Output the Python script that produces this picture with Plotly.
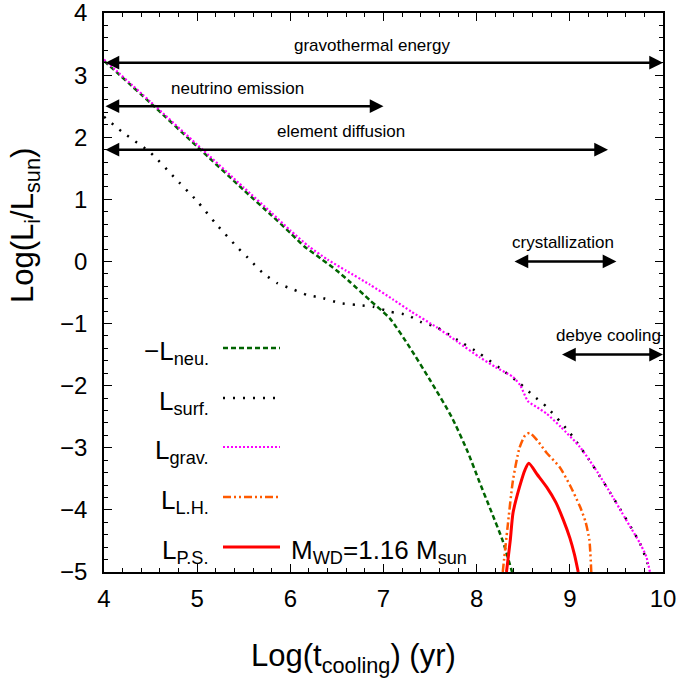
import plotly.graph_objects as go

# ---------------- data ----------------
grav_x = [4.0, 4.5, 5.0, 5.5, 5.8, 6.0, 6.2, 6.4, 6.6, 6.85, 7.1, 7.3, 7.57, 7.8, 8.03, 8.2, 8.39, 8.47,
          8.55, 8.65, 8.75, 8.9, 9.11, 9.3, 9.46, 9.6, 9.75, 9.82, 9.86]
grav_y = [3.25, 2.57, 1.88, 1.19, 0.78, 0.50, 0.24, 0.03, -0.15, -0.37, -0.61, -0.81, -1.06, -1.30, -1.54,
          -1.70, -1.86, -2.00, -2.25, -2.35, -2.45, -2.66, -2.99, -3.40, -3.79, -4.15, -4.53, -4.75, -5.0]

surf_x = [4.0, 4.2, 4.5, 4.75, 5.0, 5.2, 5.43, 5.57, 5.7, 5.86, 6.03, 6.18, 6.35, 6.53, 6.71, 6.89, 7.07,
          7.25, 7.41, 7.57, 7.8, 8.03, 8.25, 8.46, 8.6, 8.75, 9.0, 9.21, 9.46, 9.75, 9.86]
surf_y = [2.33, 2.08, 1.75, 1.36, 0.97, 0.61, 0.23, 0.02, -0.18, -0.35, -0.45, -0.54, -0.59, -0.67, -0.70,
          -0.73, -0.81, -0.86, -0.98, -1.06, -1.27, -1.48, -1.72, -1.96, -2.15, -2.34, -2.76, -3.20, -3.79,
          -4.53, -4.97]

neu_x = [4.0, 4.5, 5.0, 5.5, 5.8, 6.0, 6.15, 6.28, 6.5, 6.64, 6.85, 7.07, 7.28, 7.5, 7.73, 7.9, 8.03, 8.15,
         8.28, 8.38]
neu_y = [3.23, 2.55, 1.85, 1.15, 0.74, 0.46, 0.24, 0.10, -0.15, -0.33, -0.62, -0.92, -1.38, -1.91, -2.50,
         -3.05, -3.55, -4.00, -4.50, -5.0]

lh_x = [8.28, 8.33, 8.39, 8.46, 8.52, 8.57, 8.65, 8.75, 8.89, 9.0, 9.11, 9.17, 9.21, 9.23]
lh_y = [-5.0, -4.3, -3.52, -3.0, -2.8, -2.76, -2.88, -3.08, -3.31, -3.6, -3.95, -4.2, -4.49, -5.0]

ps_x = [8.32, 8.36, 8.39, 8.46, 8.52, 8.56, 8.65, 8.75, 8.85, 8.93, 9.0, 9.05, 9.09]
ps_y = [-5.0, -4.5, -4.05, -3.63, -3.35, -3.25, -3.43, -3.63, -3.88, -4.16, -4.45, -4.72, -5.0]

# arrows: label, x_start, x_end, y, label_x, label_y
arrow_labels = ["gravothermal energy", "neutrino emission", "element diffusion", "crystallization", "debye cooling"]
arrow_x0 = [4.0, 4.0, 4.0, 8.39, 8.9]
arrow_x1 = [10.0, 7.0, 9.41, 9.5, 10.0]
arrow_y = [3.2, 2.5, 1.8, 0.0, -1.5]
label_x = [6.88, 5.43, 6.54, 8.93, 9.41]
label_y = [3.47, 2.78, 2.1, 0.31, -1.19]

legend_names = ["\u2212L<sub>neu.</sub>", "L<sub>surf.</sub>", "L<sub>grav.</sub>", "L<sub>L.H.</sub>", "L<sub>P.S.</sub>"]
mass_label = "M<sub>WD</sub>=1.16 M<sub>sun</sub>"

x_ticks = [4, 5, 6, 7, 8, 9, 10]
y_ticks = [4, 3, 2, 1, 0, -1, -2, -3, -4, -5]

# ---------------- styles ----------------
FONT = "Liberation Sans, Arial, Helvetica, sans-serif"
styles = [
    dict(color="#006400", width=2.5, dash="5px,3px"),        # neutrino
    dict(color="black", width=2.5, dash="2px,8px"),          # surface
    dict(color="#ff00ff", width=2.2, dash="2px,2px"),        # grav
    dict(color="#ff5a00", width=2.5, dash="8px,3px,2px,3px,2px,3px"),  # L.H.
    dict(color="#ff0000", width=3, dash="solid"),            # P.S.
]

fig = go.Figure()
series = [(neu_x, neu_y), (surf_x, surf_y), (grav_x, grav_y), (lh_x, lh_y), (ps_x, ps_y)]
for (xs, ys), st in zip(series, styles):
    fig.add_trace(go.Scatter(x=xs, y=ys, mode="lines", line=dict(color=st["color"], width=st["width"],
                                                                 dash=st["dash"], shape="spline", smoothing=0.6),
                             showlegend=False, hoverinfo="skip", cliponaxis=True))

annotations = []
for lab, x0, x1, yv, lx, ly in zip(arrow_labels, arrow_x0, arrow_x1, arrow_y, label_x, label_y):
    annotations.append(dict(x=x1, y=yv, ax=x0, ay=yv, xref="x", yref="y", axref="x", ayref="y",
                            text="", showarrow=True, arrowhead=2, arrowside="end+start", arrowsize=1.1,
                            arrowwidth=2.5, arrowcolor="black", standoff=0, startstandoff=0))
    annotations.append(dict(x=lx, y=ly, xref="x", yref="y", text=lab, showarrow=False,
                            font=dict(family=FONT, size=17, color="black"), xanchor="center", yanchor="middle"))

# legend (custom, inside the plot)
PLOT_TOP, PLOT_H = 13, 559
row_px = [348, 398, 447, 497, 547]
def py2paper(p):
    return 1 - (p - PLOT_TOP) / PLOT_H
def px2paper(p):
    return (p - 104) / 559.0

shapes = []
for name, st, rp in zip(legend_names, styles, row_px):
    yy = py2paper(rp)
    shapes.append(dict(type="line", xref="paper", yref="paper", x0=px2paper(223), x1=px2paper(280),
                       y0=yy, y1=yy, line=dict(color=st["color"], width=st["width"], dash=st["dash"])))
    annotations.append(dict(x=px2paper(211), y=yy, xref="paper", yref="paper", text=name, showarrow=False,
                            xanchor="right", yanchor="middle", yshift=-4,
                            font=dict(family=FONT, size=26, color="black")))
annotations.append(dict(x=px2paper(289), y=py2paper(row_px[-1]), xref="paper", yref="paper", text=mass_label,
                        showarrow=False, xanchor="left", yanchor="middle", yshift=-4,
                        font=dict(family=FONT, size=26, color="black")))

# axis titles
annotations.append(dict(x=px2paper(353), y=py2paper(658), xref="paper", yref="paper",
                        text="Log(t<sub>cooling</sub>) (yr)", showarrow=False, xanchor="center", yanchor="middle",
                        font=dict(family=FONT, size=31, color="black")))
annotations.append(dict(x=px2paper(25), y=py2paper(226), xref="paper", yref="paper",
                        text="Log(L<sub>i</sub>/L<sub>sun</sub>)", showarrow=False, xanchor="center",
                        yanchor="middle", textangle=-90, font=dict(family=FONT, size=31, color="black")))

axis_common = dict(showgrid=False, zeroline=False, showline=True, linecolor="black", linewidth=1.5,
                   mirror="allticks", ticks="inside", ticklen=8, tickwidth=1.2, tickcolor="black",
                   automargin=False, ticklabeloverflow="allow",
                   tickfont=dict(family=FONT, size=24, color="black"))
fig.update_layout(
    width=684, height=686, margin=dict(l=104, r=21, t=13, b=114),
    paper_bgcolor="white", plot_bgcolor="white", showlegend=False,
    xaxis=dict(range=[4, 10], tickvals=x_ticks, ticktext=[str(v) for v in x_ticks], ticklabelstandoff=4,
               minor=dict(dtick=0.2, ticks="inside", ticklen=4, tickcolor="black", tickwidth=1), **axis_common),
    yaxis=dict(range=[-5, 4], tickvals=y_ticks, ticktext=[str(v).replace("-", "\u2212") for v in y_ticks],
               ticklabelstandoff=10,
               minor=dict(dtick=0.2, ticks="inside", ticklen=4, tickcolor="black", tickwidth=1), **axis_common),
    annotations=annotations, shapes=shapes,
)
fig.write_html("out.html")
